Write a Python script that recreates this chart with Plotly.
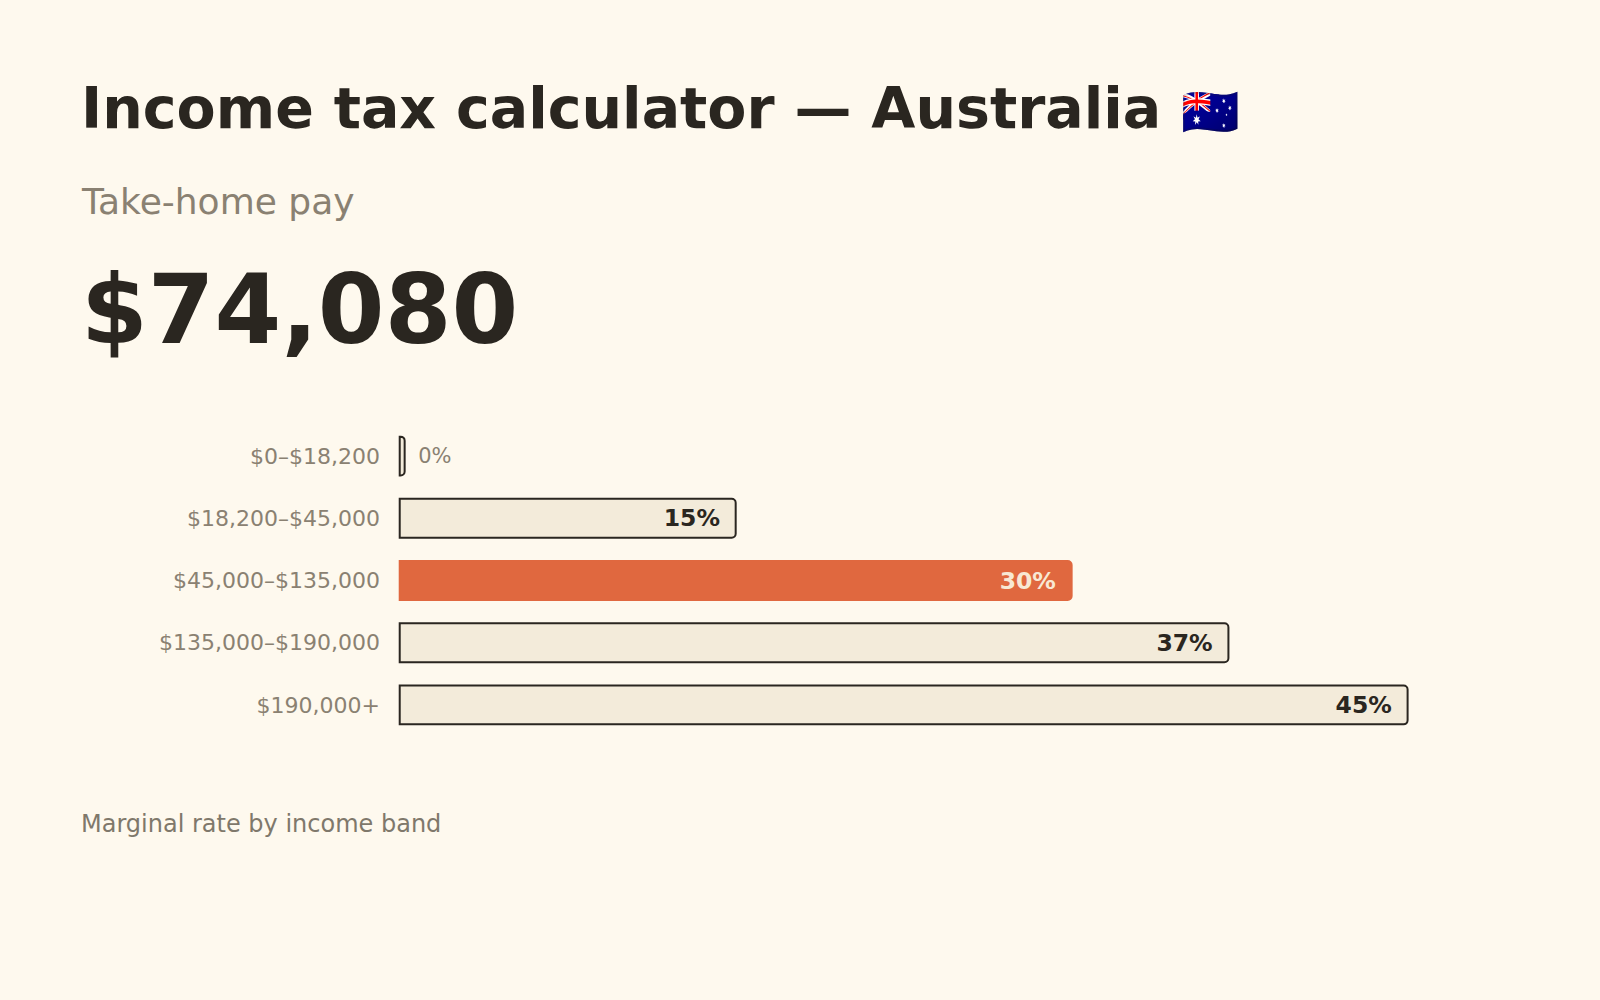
import plotly.graph_objects as go

# income bands and marginal rates (ATO resident rates)
bands = ["$0–$18,200", "$18,200–$45,000", "$45,000–$135,000", "$135,000–$190,000", "$190,000+"]
rates = [0, 15, 30, 37, 45]
current_band = "$45,000–$135,000"   # band the salary falls in

title_text = "Income tax calculator — Australia"
title_flag = "🇦🇺"
subtitle_text = "Take-home pay"
take_home = 74080
footer_text = "Marginal rate by income band"

BG = "#fef9ee"
INK = "#2a2620"
MUTED = "#8a8172"
FILL = "#f3ebda"
ACCENT = "#e0683f"
FONT = "DejaVu Sans"

W, H = 1600, 1000
px_per_unit = 22.4                    # 45% spans ~1008px
x_lo, x_hi = -0.3, 46
m_l = 400 + x_lo * px_per_unit
m_r = W - m_l - (x_hi - x_lo) * px_per_unit
m_t, m_b = 424.6, 264.4


def paper_x(px):
    return (px - m_l) / (W - m_l - m_r)


def paper_y(py):
    return (H - m_b - py) / (H - m_t - m_b)


# a zero rate still gets a hairline stub so the band is visible
shown = [max(r, 0.22) for r in rates]
labels = []
colors = []
sizes = []
positions = []
for b, r in zip(bands, rates):
    if r == 0:
        labels.append("\u2002" + f"{r}%")
        colors.append(MUTED)
        sizes.append(21)
        positions.append("outside")
    else:
        labels.append(f"<b>{r}%\u2002</b>")
        colors.append("#f8e8d4" if b == current_band else INK)
        sizes.append(23.5)
        positions.append("inside")

fig = go.Figure()
fig.add_trace(go.Bar(
    x=shown,
    y=bands,
    orientation="h",
    text=labels,
    textposition=positions,
    insidetextanchor="end",
    textfont=dict(color=colors, size=sizes, family=FONT),
    cliponaxis=False,
    marker=dict(
        color=[ACCENT if b == current_band else FILL for b in bands],
        line=dict(color=[ACCENT if b == current_band else INK for b in bands], width=2),
        cornerradius=4,
    ),
    hoverinfo="skip",
))

fig.add_annotation(text=f"<b>{title_text} <span style='font-size:47px'>{title_flag}</span></b>",
                   x=paper_x(80), y=paper_y(108), xref="paper", yref="paper",
                   xanchor="left", yanchor="middle", showarrow=False, borderpad=0,
                   font=dict(family=FONT, size=57, color=INK))
fig.add_annotation(text=subtitle_text, x=paper_x(80), y=paper_y(201), xref="paper", yref="paper",
                   xanchor="left", yanchor="middle", showarrow=False, borderpad=0,
                   font=dict(family=FONT, size=36, color=MUTED))
fig.add_annotation(text=f"<b>${take_home:,}</b>", x=paper_x(80), y=paper_y(310), xref="paper", yref="paper",
                   xanchor="left", yanchor="middle", showarrow=False, borderpad=0,
                   font=dict(family=FONT, size=96, color=INK))
fig.add_annotation(text=footer_text, x=paper_x(80), y=paper_y(824), xref="paper", yref="paper",
                   xanchor="left", yanchor="middle", showarrow=False, borderpad=0,
                   font=dict(family=FONT, size=24, color="#7f786b"))

fig.update_layout(
    width=W, height=H,
    margin=dict(l=m_l, r=m_r, t=m_t, b=m_b),
    paper_bgcolor=BG, plot_bgcolor=BG,
    bargap=0.375,
    showlegend=False,
    font=dict(family=FONT, color=MUTED),
)
fig.update_xaxes(range=[x_lo, x_hi], visible=False, fixedrange=True)
fig.update_yaxes(autorange="reversed", showgrid=False, zeroline=False, showline=False, ticks="",
                 ticklabelstandoff=12, tickfont=dict(size=22, color=MUTED, family=FONT), fixedrange=True)

fig.write_html("out.html", config={"displayModeBar": False},
               post_script="document.body.style.margin='0';")
